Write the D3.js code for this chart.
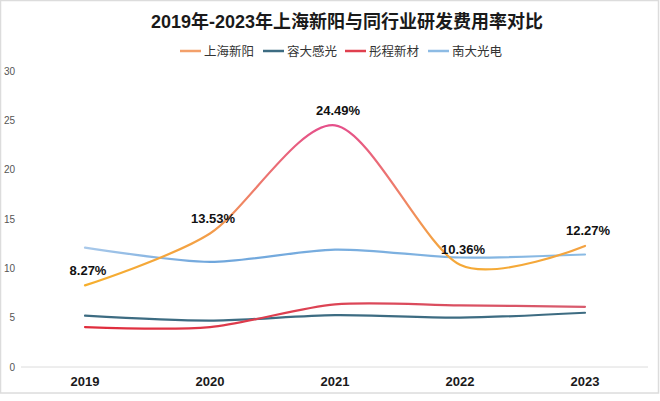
<!DOCTYPE html>
<html><head><meta charset="utf-8">
<script src="https://cdn.jsdelivr.net/npm/d3@7"></script>
<style>
html,body{margin:0;padding:0;background:#fff;}
svg{display:block;font-family:"Liberation Sans","Noto Sans CJK SC",sans-serif;}
</style></head>
<body><svg id="c" width="660" height="401"></svg>
<script>
const years = ["2019","2020","2021","2022","2023"];
const shxy = [8.27, 13.53, 24.49, 10.36, 12.27];   // 上海新阳
const rdgg = [5.2, 4.7, 5.25, 5.0, 5.5];           // 容大感光
const tcxc = [4.05, 4.05, 6.35, 6.25, 6.1];        // 彤程新材
const ndgd = [12.1, 10.65, 11.9, 11.1, 11.4];      // 南大光电
const seriesNames = ["上海新阳","容大感光","彤程新材","南大光电"];
const legendColors = ["#f3a06a","#3d6c82","#e0404f","#8dbbe4"];
const yTicks = [0,5,10,15,20,25,30];
const title = "2019年-2023年上海新阳与同行业研发费用率对比";

const svg = d3.select("#c");
// frame
svg.append("rect").attr("x",0.5).attr("y",0.5).attr("width",658).attr("height",392.5)
  .attr("fill","#fff").attr("stroke","#dcdcdc").attr("stroke-width",1.5);

const x = d3.scalePoint().domain(years).range([85,585]);
const y = d3.scaleLinear().domain([0,30]).range([367,71]);

// title
svg.append("text").attr("x",347).attr("y",27.5).attr("text-anchor","middle")
  .attr("font-size",18).attr("font-weight","bold").attr("fill","#1a1a1a").text(title);

// legend
const legX = [180,263,345,428];
seriesNames.forEach((n,i)=>{
  const g = svg.append("g").attr("transform",`translate(${legX[i]},51)`);
  g.append("line").attr("x1",0).attr("x2",21).attr("y1",0).attr("y2",0)
    .attr("stroke",legendColors[i]).attr("stroke-width",2.5);
  g.append("text").attr("x",24).attr("y",4.5).attr("font-size",12.5)
    .attr("font-family","'Noto Sans CJK SC',sans-serif").attr("fill","#333").text(n);
});

// y axis labels
svg.append("g").selectAll("text").data(yTicks).join("text")
  .attr("x",15).attr("y",d=>y(d)+3.5).attr("text-anchor","end")
  .attr("font-size",10).attr("fill","#555").text(d=>d);

// baseline
svg.append("line").attr("x1",21).attr("x2",648).attr("y1",y(0)).attr("y2",y(0))
  .attr("stroke","#dcdcdc").attr("stroke-width",1);

// x labels
svg.append("g").selectAll("text").data(years).join("text")
  .attr("x",d=>x(d)).attr("y",386).attr("text-anchor","middle")
  .attr("font-size",13).attr("font-weight","bold").attr("fill","#1a1a1a").text(d=>d);

// gradients
const defs = svg.append("defs");
const g1 = defs.append("linearGradient").attr("id","gOrange").attr("gradientUnits","userSpaceOnUse")
  .attr("x1",0).attr("x2",0).attr("y1",y(8)).attr("y2",y(24.5));
g1.append("stop").attr("offset","0%").attr("stop-color","#f6b02c");
g1.append("stop").attr("offset","30%").attr("stop-color","#f3a046");
g1.append("stop").attr("offset","55%").attr("stop-color","#ef8366");
g1.append("stop").attr("offset","100%").attr("stop-color","#e5508a");
const g2 = defs.append("linearGradient").attr("id","gRed").attr("gradientUnits","userSpaceOnUse")
  .attr("x1",x("2019")).attr("x2",x("2023")).attr("y1",0).attr("y2",0);
g2.append("stop").attr("offset","0%").attr("stop-color","#e02c3c");
g2.append("stop").attr("offset","100%").attr("stop-color","#d85c6e");
const g3 = defs.append("linearGradient").attr("id","gBlue").attr("gradientUnits","userSpaceOnUse")
  .attr("x1",x("2019")).attr("x2",x("2023")).attr("y1",0).attr("y2",0);
g3.append("stop").attr("offset","0%").attr("stop-color","#a9c9ea");
g3.append("stop").attr("offset","25%").attr("stop-color","#6fa6dc");
g3.append("stop").attr("offset","100%").attr("stop-color","#8bbbe4");

const line = d3.line().x((d,i)=>x(years[i])).y(d=>y(d)).curve(d3.curveCardinal.tension(0.15));
const drawn = [[ndgd,"url(#gBlue)"],[rdgg,"#3d6c82"],[tcxc,"url(#gRed)"],[shxy,"url(#gOrange)"]];
drawn.forEach(([vals,col])=>{
  svg.append("path").datum(vals).attr("d",line).attr("fill","none")
    .attr("stroke",col).attr("stroke-width",2.2).attr("stroke-linecap","round");
});

// data labels for 上海新阳
svg.append("g").selectAll("text").data(shxy).join("text")
  .attr("x",(d,i)=>x(years[i])+3).attr("y",d=>y(d)-10.5).attr("text-anchor","middle")
  .attr("font-size",13).attr("font-weight","bold").attr("fill","#111").text(d=>d.toFixed(2)+"%");
</script></body></html>
